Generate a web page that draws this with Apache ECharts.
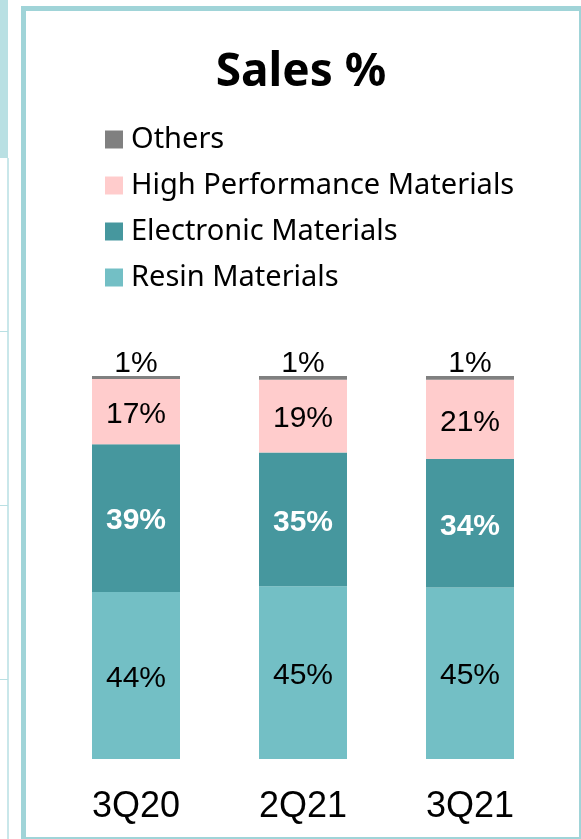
<!DOCTYPE html>
<html>
<head>
<meta charset="utf-8">
<script src="https://cdn.jsdelivr.net/npm/echarts@6/dist/echarts.min.js"></script>
<style>
  html, body { margin: 0; padding: 0; background: #fff; width: 581px; height: 839px; overflow: hidden; }
  #strip { position: absolute; left: 0; top: 0; width: 8px; height: 158px; background: #b9e0e3; }
  #vline { position: absolute; left: 7px; top: 158px; width: 2px; height: 700px; background: #c9e7ea; }
  .hl { position: absolute; left: 0; width: 8px; height: 1px; background: #b9e0e3; }
  #frame { position: absolute; left: 21px; top: 6px; width: 563px; height: 836px; border: 5px solid #a0d4d8; box-sizing: border-box; }
  #chart { position: absolute; left: 21px; top: 0; width: 560px; height: 839px; }
</style>
</head>
<body>
<div id="strip"></div>
<div id="vline"></div>
<div class="hl" style="top:331px"></div>
<div class="hl" style="top:505px"></div>
<div class="hl" style="top:679px"></div>
<div id="frame"></div>
<div id="chart"></div>
<script>
const categories = ['3Q20', '2Q21', '3Q21'];
const resinMaterials = [43.6, 45.1, 44.8];
const electronicMaterials = [38.6, 34.9, 33.5];
const highPerformanceMaterials = [17.0, 19.0, 20.7];
const others = [0.8, 1.0, 1.0];
const seriesNames = ['Resin Materials', 'Electronic Materials', 'High Performance Materials', 'Others'];
const legendOrder = ['Others', 'High Performance Materials', 'Electronic Materials', 'Resin Materials'];
const colors = ['#73bfc5', '#46979e', '#ffcccc', '#808080'];

const chart = echarts.init(document.getElementById('chart'));
const pct = p => Math.round(p.value) + '%';
const labelFont = 'Liberation Sans, Arial, sans-serif';
function mk(name, data, color, label) {
  return {
    name: name, type: 'bar', stack: 'total', data: data, barWidth: 88,
    itemStyle: { color: color },
    label: Object.assign({ show: true, formatter: pct, fontFamily: labelFont, fontSize: 30, color: '#000' }, label)
  };
}
chart.setOption({
  animation: false,
  title: {
    text: 'Sales %', left: 'center', top: 45,
    textStyle: { fontFamily: 'Noto Sans', fontWeight: 'bold', fontSize: 46, color: '#000' }
  },
  legend: {
    data: legendOrder, orient: 'vertical', left: 84, top: 125, padding: 0,
    icon: 'rect', itemWidth: 18, itemHeight: 18, itemGap: 17,
    textStyle: { fontFamily: 'Noto Sans', fontSize: 29, color: '#000', lineHeight: 29, padding: [0, 0, 0, 3] }
  },
  grid: { left: 31.5, right: 27.5, top: 376, bottom: 80 },
  xAxis: {
    type: 'category', data: categories,
    axisLine: { show: false }, axisTick: { show: false },
    axisLabel: { fontFamily: labelFont, fontSize: 36, color: '#000', margin: 30 }
  },
  yAxis: { type: 'value', min: 0, max: 100, show: false, splitLine: { show: false } },
  series: [
    mk(seriesNames[0], resinMaterials, colors[0], { position: 'inside', offset: [0, 3] }),
    mk(seriesNames[1], electronicMaterials, colors[1], { position: 'inside', color: '#fff', fontWeight: 'bold', offset: [0, 3] }),
    mk(seriesNames[2], highPerformanceMaterials, colors[2], { position: 'inside', offset: [0, 3] }),
    mk(seriesNames[3], others, colors[3], { position: 'top', distance: 0, offset: [0, 3] })
  ]
});
</script>
</body>
</html>
